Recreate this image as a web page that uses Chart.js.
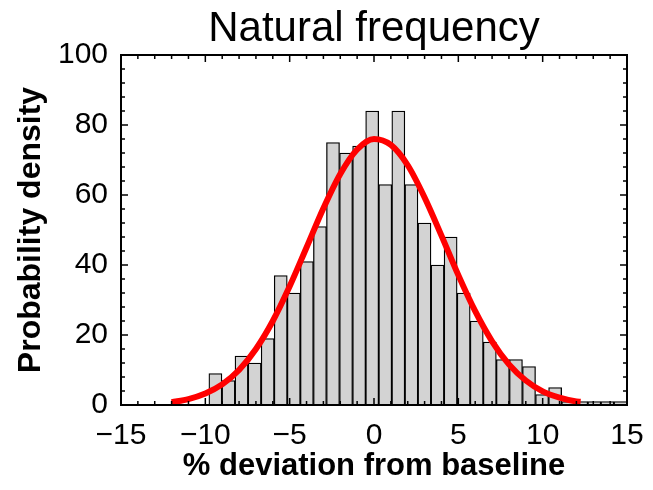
<!DOCTYPE html>
<html>
<head>
<meta charset="utf-8">
<script src="https://cdn.jsdelivr.net/npm/chart.js@4.4.1/dist/chart.umd.min.js"></script>
<style>
  html, body { margin: 0; padding: 0; background: #fff; }
  canvas { display: block; }
</style>
</head>
<body>
<canvas id="histChart" width="653" height="490"></canvas>
<script>
// histogram bins (centres, % deviation) and counts
const binCenters = [-9.403, -8.628, -7.854, -7.079, -6.304, -5.530, -4.755, -3.980,
  -3.205, -2.431, -1.656, -0.881, -0.107, 0.668, 1.443, 2.218, 2.992, 3.767,
  4.542, 5.316, 6.091, 6.866, 7.640, 8.415, 9.190, 9.965, 10.739, 11.514,
  12.289, 13.063, 13.838, 14.613];
const counts = [9, 7, 14, 12, 19, 37, 32, 41, 51, 75, 72, 74, 84, 63, 84, 63,
  52, 40, 48, 32, 24, 18, 13, 13, 11, 3, 5, 1, 1, 1, 1, 1];

// red fitted curve
const fitX = [-12, -11, -10, -9, -8, -7, -6, -5, -4, -3, -2, -1, 0, 1, 2, 3,
  4, 5, 6, 7, 8, 9, 10, 11, 12, 12.25];
const fitY = [0.8, 1.7, 3.3, 5.9, 10.0, 16.0, 24.0, 33.9, 45.0, 56.2, 66.0,
  73.0, 76.0, 74.3, 68.5, 59.3, 48.4, 37.1, 26.8, 18.2, 11.6, 7.0, 3.9, 2.1,
  1.0, 0.9];

const xTicks = [-15, -10, -5, 0, 5, 10, 15];
const yTicks = [0, 20, 40, 60, 80, 100];

const FONT = '"Liberation Sans", Arial, Helvetica, sans-serif';

// frame + inward ticks on all four sides
const frameTicks = {
  id: 'frameTicks',
  afterDatasetsDraw(chart) {
    const { ctx, chartArea: a, scales: { x, y } } = chart;
    ctx.save();
    ctx.strokeStyle = '#000';
    ctx.lineWidth = 1.5;
    ctx.beginPath();
    for (let v = -15; v <= 15; v++) {
      const len = v % 5 === 0 ? 7 : 4;
      const px = x.getPixelForValue(v);
      ctx.moveTo(px, a.bottom); ctx.lineTo(px, a.bottom - len);
      ctx.moveTo(px, a.top); ctx.lineTo(px, a.top + len);
    }
    for (let v = 0; v <= 100; v += 4) {
      const len = v % 20 === 0 ? 7 : 4;
      const py = y.getPixelForValue(v);
      ctx.moveTo(a.left, py); ctx.lineTo(a.left + len, py);
      ctx.moveTo(a.right, py); ctx.lineTo(a.right - len, py);
    }
    ctx.stroke();
    ctx.lineWidth = 2;
    ctx.strokeRect(a.left, a.top, a.right - a.left, a.bottom - a.top);
    ctx.restore();
  }
};

new Chart(document.getElementById('histChart'), {
  type: 'bar',
  data: {
    datasets: [
      {
        type: 'line',
        data: fitX.map((v, i) => ({ x: v, y: fitY[i] })),
        borderColor: '#ff0000',
        borderWidth: 6,
        pointRadius: 0,
        cubicInterpolationMode: 'monotone',
        fill: false,
        order: 0
      },
      {
        data: binCenters.map((v, i) => ({ x: v, y: counts[i] })),
        backgroundColor: '#d3d3d3',
        borderColor: '#000',
        borderWidth: 1.3,
        borderSkipped: false,
        barPercentage: 1,
        categoryPercentage: 1,
        order: 1
      }
    ]
  },
  options: {
    responsive: false,
    animation: false,
    devicePixelRatio: 1,
    layout: { padding: { left: 0, right: 26, top: 0, bottom: 0 } },
    plugins: {
      legend: { display: false },
      tooltip: { enabled: false },
      title: {
        display: true,
        text: 'Natural frequency',
        fullSize: false,
        color: '#000',
        font: { family: FONT, size: 42, weight: 'normal', lineHeight: 1.2 },
        padding: { top: 4, bottom: 0.6 }
      }
    },
    scales: {
      x: {
        type: 'linear',
        min: -15,
        max: 15,
        offset: false,
        grid: { display: false },
        border: { display: false },
        afterBuildTicks(scale) { scale.ticks = xTicks.map(v => ({ value: v })); },
        afterFit(scale) { scale.height = 85; },
        ticks: {
          color: '#000',
          padding: 5,
          maxRotation: 0,
          autoSkip: false,
          font: { family: FONT, size: 30 },
          callback: v => (v < 0 ? '\u2212' + Math.abs(v) : String(v))
        },
        title: {
          display: true,
          text: '% deviation from baseline',
          color: '#000',
          font: { family: FONT, size: 31, weight: 'bold', lineHeight: 1.2 },
          padding: { top: 0, bottom: 5 }
        }
      },
      y: {
        min: 0,
        max: 100,
        grid: { display: false },
        border: { display: false },
        afterBuildTicks(scale) { scale.ticks = yTicks.map(v => ({ value: v })); },
        afterFit(scale) { scale.width = 121; },
        ticks: {
          color: '#000',
          padding: 5,
          font: { family: FONT, size: 30 }
        },
        title: {
          display: true,
          text: 'Probability density',
          color: '#000',
          font: { family: FONT, size: 32, weight: 'bold', lineHeight: 1.2 },
          padding: { top: 12, bottom: 0 }
        }
      }
    }
  },
  plugins: [frameTicks]
});
</script>
</body>
</html>
